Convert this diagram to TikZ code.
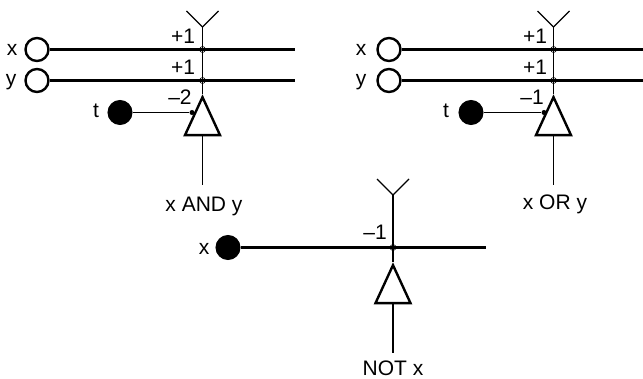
\documentclass[tikz,border=0pt]{standalone}
\usepackage{fontspec}
\setmainfont{Liberation Sans}
\usetikzlibrary{shapes.geometric}
\begin{document}
\begin{tikzpicture}[
  x=1pt, y=-1pt,
  txt/.style={anchor=base, inner sep=0pt, font=\fontsize{21}{24}\selectfont},
  inputon/.style={circle, draw=black, fill=white, line width=2.4pt, minimum size=23pt, inner sep=0pt},
  inputoff/.style={circle, draw=black, fill=black, line width=1pt, minimum size=24pt, inner sep=0pt},
  cell/.style={isosceles triangle, isosceles triangle stretches, shape border rotate=90, draw=black,
    line width=2.4pt, minimum width=35pt, minimum height=38pt, inner sep=0pt, anchor=apex},
  syn/.style={circle, draw=black, fill=none, line width=0.6pt, minimum size=6pt, inner sep=0pt},
  tdot/.style={circle, fill=black, minimum size=5pt, inner sep=0pt},
  wire/.style={line width=2.6pt},
  thin wire/.style={line width=1.1pt}
]
\useasboundingbox (0,0) rectangle (643,379);
% x AND y
\node[inputon] (xa) at (37,49.5) {};
\node[inputon] (ya) at (37,80.5) {};
\node[inputoff] (ta) at (120,112.5) {};
\node[cell] (cella) at (202.5,94) {};
\node[syn] (sxa) at (202.5,49.5) {};
\node[syn] (sya) at (202.5,80.5) {};
\node[tdot] (dta) at (192,112.5) {};
\coordinate (topa) at (202.5,27);
\coordinate (enda) at (202.5,185);
\coordinate (xaend) at (295,49.5);
\coordinate (yaend) at (295,80.5);
\draw[wire] (xa) -- (xaend);
\draw[wire] (ya) -- (yaend);
\draw[thin wire] (ta) -- (dta);
\draw[thin wire] (topa) -- (cella.apex);
\draw[thin wire] (cella.lower side) -- (enda);
\draw[thin wire] (topa) -- ++(-16,-16);
\draw[thin wire] (topa) -- ++(16,-16);
\node[txt] (lxa) at (12,56) {x};
\node[txt] (lya) at (11,86) {y};
\node[txt] (lta) at (96,118) {t};
\node[txt] (w1a) at (183,44) {+1};
\node[txt] (w2a) at (183,75) {+1};
\node[txt] (w3a) at (180,105) {--2};
\node[txt] (outa) at (204,212) {x AND y};
% x OR y
\node[inputon] (xo) at (389,49.5) {};
\node[inputon] (yo) at (389,80.5) {};
\node[inputoff] (to) at (471,112.5) {};
\node[cell] (cello) at (553.5,94) {};
\node[syn] (sxo) at (553.5,49.5) {};
\node[syn] (syo) at (553.5,80.5) {};
\node[tdot] (dto) at (544,112.5) {};
\coordinate (topo) at (553.5,27);
\coordinate (endo) at (553.5,185);
\coordinate (xoend) at (643,49.5);
\coordinate (yoend) at (643,80.5);
\draw[wire] (xo) -- (xoend);
\draw[wire] (yo) -- (yoend);
\draw[thin wire] (to) -- (dto);
\draw[thin wire] (topo) -- (cello.apex);
\draw[thin wire] (cello.lower side) -- (endo);
\draw[thin wire] (topo) -- ++(-16,-16);
\draw[thin wire] (topo) -- ++(16,-16);
\node[txt] (lxo) at (361,56) {x};
\node[txt] (lyo) at (361,86) {y};
\node[txt] (lto) at (446,118) {t};
\node[txt] (w1o) at (535,44) {+1};
\node[txt] (w2o) at (535,75) {+1};
\node[txt] (w3o) at (532,105) {--1};
\node[txt] (outo) at (555,210) {x OR y};
% NOT x
\node[inputoff] (xn) at (228,247.5) {};
\node[cell] (celln) at (393,262) {};
\node[syn] (sxn) at (393,247.5) {};
\coordinate (topn) at (393,195);
\coordinate (endn) at (393,353);
\coordinate (xnend) at (486,247.5);
\draw[wire] (xn) -- (xnend);
\draw[thin wire] (topn) -- (celln.apex);
\draw[thin wire] (celln.lower side) -- (endn);
\draw[thin wire] (topn) -- ++(-16,-16);
\draw[thin wire] (topn) -- ++(16,-16);
\node[txt] (lxn) at (204,255) {x};
\node[txt] (w1n) at (375,240) {--1};
\node[txt] (outn) at (393,375.5) {NOT x};
\end{tikzpicture}
\end{document}
